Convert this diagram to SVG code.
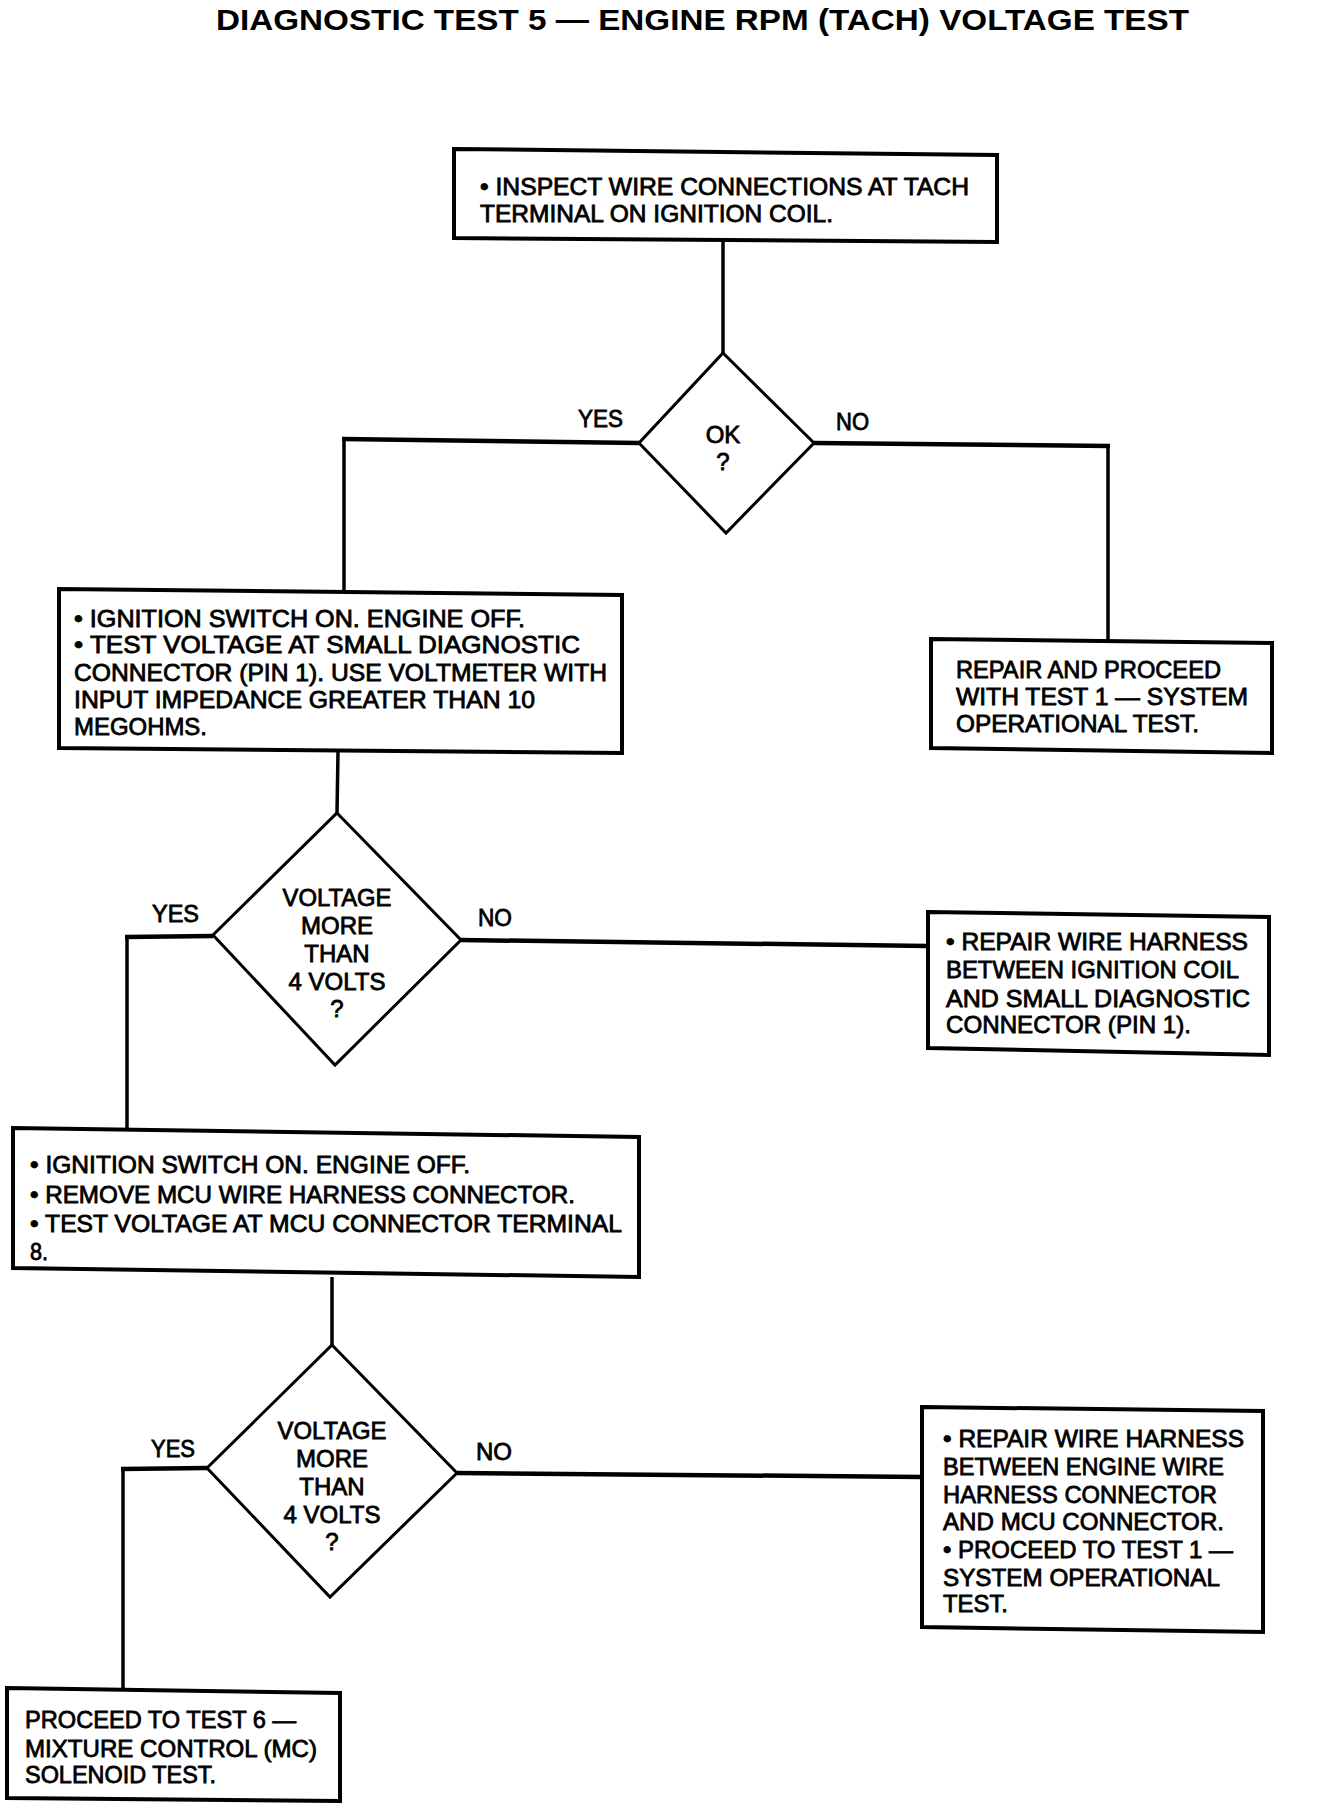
<svg xmlns="http://www.w3.org/2000/svg" width="1328" height="1806" viewBox="0 0 1328 1806">
<style>
.bg{fill:#fff}
.box{fill:#fff;stroke:#000;stroke-width:4;stroke-linejoin:miter}
.dia{fill:#fff;stroke:#000;stroke-width:3}
.ln{fill:none;stroke:#000;stroke-width:3.5;stroke-linejoin:miter}
.hl{fill:none;stroke:#000;stroke-width:4.5;stroke-linejoin:miter}
.t{font-family:"Liberation Sans",Arial,sans-serif;font-size:24px;fill:#000;stroke:#000;stroke-width:0.8}
.c{text-anchor:middle}
.title{font-family:"Liberation Sans",Arial,sans-serif;font-size:30px;font-weight:bold;fill:#000}
</style>
<rect class="bg" x="0" y="0" width="1328" height="1806"/>
<text class="title" x="216" y="30" textLength="973" lengthAdjust="spacingAndGlyphs">DIAGNOSTIC TEST 5 — ENGINE RPM (TACH) VOLTAGE TEST</text>

<g id="connectors">
<polyline class="ln" points="723,242 723,353"/>
<polyline class="ln" points="344,439 344,590"/>
<polyline class="hl" points="639,443 342,439"/>
<polyline class="ln" points="1108,446 1108,641"/>
<polyline class="hl" points="814,443 1110,446"/>
<polyline class="ln" points="338,752 337,813"/>
<polyline class="ln" points="127,937 127,1129"/>
<polyline class="hl" points="213,936 125,937"/>
<polyline class="hl" points="461,940 928,946"/>
<polyline class="ln" points="332,1277 332,1345"/>
<polyline class="ln" points="123,1469 123,1689"/>
<polyline class="hl" points="207,1468 121,1469"/>
<polyline class="hl" points="457,1473 922,1477"/>
<text class="t" x="578" y="427" textLength="45" lengthAdjust="spacingAndGlyphs">YES</text>
<text class="t" x="836" y="430" textLength="33" lengthAdjust="spacingAndGlyphs">NO</text>
<text class="t" x="152" y="922" textLength="47" lengthAdjust="spacingAndGlyphs">YES</text>
<text class="t" x="478" y="926" textLength="34" lengthAdjust="spacingAndGlyphs">NO</text>
<text class="t" x="151" y="1457" textLength="44" lengthAdjust="spacingAndGlyphs">YES</text>
<text class="t" x="476" y="1460" textLength="36" lengthAdjust="spacingAndGlyphs">NO</text>
</g>

<g id="box1">
<polygon class="box" points="454,149 997,155 997,242 454,238"/>
<text class="t" x="480" y="195" textLength="489" lengthAdjust="spacingAndGlyphs">• INSPECT WIRE CONNECTIONS AT TACH</text>
<text class="t" x="480" y="222" textLength="353" lengthAdjust="spacingAndGlyphs">TERMINAL ON IGNITION COIL.</text>
</g>

<g id="dec1">
<polygon class="dia" points="723,353 814,443 726,533 639,443"/>
<text class="t c" x="723" y="443">OK</text>
<text class="t c" x="723" y="470">?</text>
</g>

<g id="box2">
<polygon class="box" points="59,589 622,595 622,753 59,748"/>
<text class="t" x="74" y="627" textLength="451" lengthAdjust="spacingAndGlyphs">• IGNITION SWITCH ON. ENGINE OFF.</text>
<text class="t" x="74" y="653" textLength="506" lengthAdjust="spacingAndGlyphs">• TEST VOLTAGE AT SMALL DIAGNOSTIC</text>
<text class="t" x="74" y="681" textLength="533" lengthAdjust="spacingAndGlyphs">CONNECTOR (PIN 1). USE VOLTMETER WITH</text>
<text class="t" x="74" y="708" textLength="461" lengthAdjust="spacingAndGlyphs">INPUT IMPEDANCE GREATER THAN 10</text>
<text class="t" x="74" y="735" textLength="133" lengthAdjust="spacingAndGlyphs">MEGOHMS.</text>
</g>

<g id="box3">
<polygon class="box" points="931,639 1272,643 1272,753 931,748"/>
<text class="t" x="956" y="678" textLength="265" lengthAdjust="spacingAndGlyphs">REPAIR AND PROCEED</text>
<text class="t" x="956" y="705" textLength="292" lengthAdjust="spacingAndGlyphs">WITH TEST 1 — SYSTEM</text>
<text class="t" x="956" y="732" textLength="243" lengthAdjust="spacingAndGlyphs">OPERATIONAL TEST.</text>
</g>

<g id="dec2">
<polygon class="dia" points="337,813 461,940 335,1065 213,935"/>
<text class="t c" x="337" y="906" textLength="109" lengthAdjust="spacingAndGlyphs">VOLTAGE</text>
<text class="t c" x="337" y="934">MORE</text>
<text class="t c" x="337" y="962">THAN</text>
<text class="t c" x="337" y="990">4 VOLTS</text>
<text class="t c" x="337" y="1017">?</text>
</g>

<g id="box5">
<polygon class="box" points="928,912 1269,917 1269,1055 928,1048"/>
<text class="t" x="946" y="950" textLength="302" lengthAdjust="spacingAndGlyphs">• REPAIR WIRE HARNESS</text>
<text class="t" x="946" y="978" textLength="293" lengthAdjust="spacingAndGlyphs">BETWEEN IGNITION COIL</text>
<text class="t" x="946" y="1007" textLength="304" lengthAdjust="spacingAndGlyphs">AND SMALL DIAGNOSTIC</text>
<text class="t" x="946" y="1033" textLength="245" lengthAdjust="spacingAndGlyphs">CONNECTOR (PIN 1).</text>
</g>

<g id="box4">
<polygon class="box" points="13,1128 639,1137 639,1277 13,1268"/>
<text class="t" x="30" y="1173" textLength="440" lengthAdjust="spacingAndGlyphs">• IGNITION SWITCH ON. ENGINE OFF.</text>
<text class="t" x="30" y="1203" textLength="545" lengthAdjust="spacingAndGlyphs">• REMOVE MCU WIRE HARNESS CONNECTOR.</text>
<text class="t" x="30" y="1232" textLength="592" lengthAdjust="spacingAndGlyphs">• TEST VOLTAGE AT MCU CONNECTOR TERMINAL</text>
<text class="t" x="30" y="1260" textLength="18" lengthAdjust="spacingAndGlyphs">8.</text>
</g>

<g id="dec3">
<polygon class="dia" points="332,1345 457,1473 330,1597 207,1468"/>
<text class="t c" x="332" y="1439" textLength="109" lengthAdjust="spacingAndGlyphs">VOLTAGE</text>
<text class="t c" x="332" y="1467">MORE</text>
<text class="t c" x="332" y="1495">THAN</text>
<text class="t c" x="332" y="1523">4 VOLTS</text>
<text class="t c" x="332" y="1550">?</text>
</g>

<g id="box7">
<polygon class="box" points="922,1407 1263,1411 1263,1632 922,1627"/>
<text class="t" x="943" y="1447" textLength="301" lengthAdjust="spacingAndGlyphs">• REPAIR WIRE HARNESS</text>
<text class="t" x="943" y="1475" textLength="281" lengthAdjust="spacingAndGlyphs">BETWEEN ENGINE WIRE</text>
<text class="t" x="943" y="1503" textLength="274" lengthAdjust="spacingAndGlyphs">HARNESS CONNECTOR</text>
<text class="t" x="943" y="1530" textLength="281" lengthAdjust="spacingAndGlyphs">AND MCU CONNECTOR.</text>
<text class="t" x="943" y="1558" textLength="290" lengthAdjust="spacingAndGlyphs">• PROCEED TO TEST 1 —</text>
<text class="t" x="943" y="1586" textLength="277" lengthAdjust="spacingAndGlyphs">SYSTEM OPERATIONAL</text>
<text class="t" x="943" y="1612" textLength="65" lengthAdjust="spacingAndGlyphs">TEST.</text>
</g>

<g id="box6">
<polygon class="box" points="7,1688 340,1693 340,1801 7,1798"/>
<text class="t" x="25" y="1728" textLength="271" lengthAdjust="spacingAndGlyphs">PROCEED TO TEST 6 —</text>
<text class="t" x="25" y="1757" textLength="292" lengthAdjust="spacingAndGlyphs">MIXTURE CONTROL (MC)</text>
<text class="t" x="25" y="1783" textLength="191" lengthAdjust="spacingAndGlyphs">SOLENOID TEST.</text>
</g>
</svg>
